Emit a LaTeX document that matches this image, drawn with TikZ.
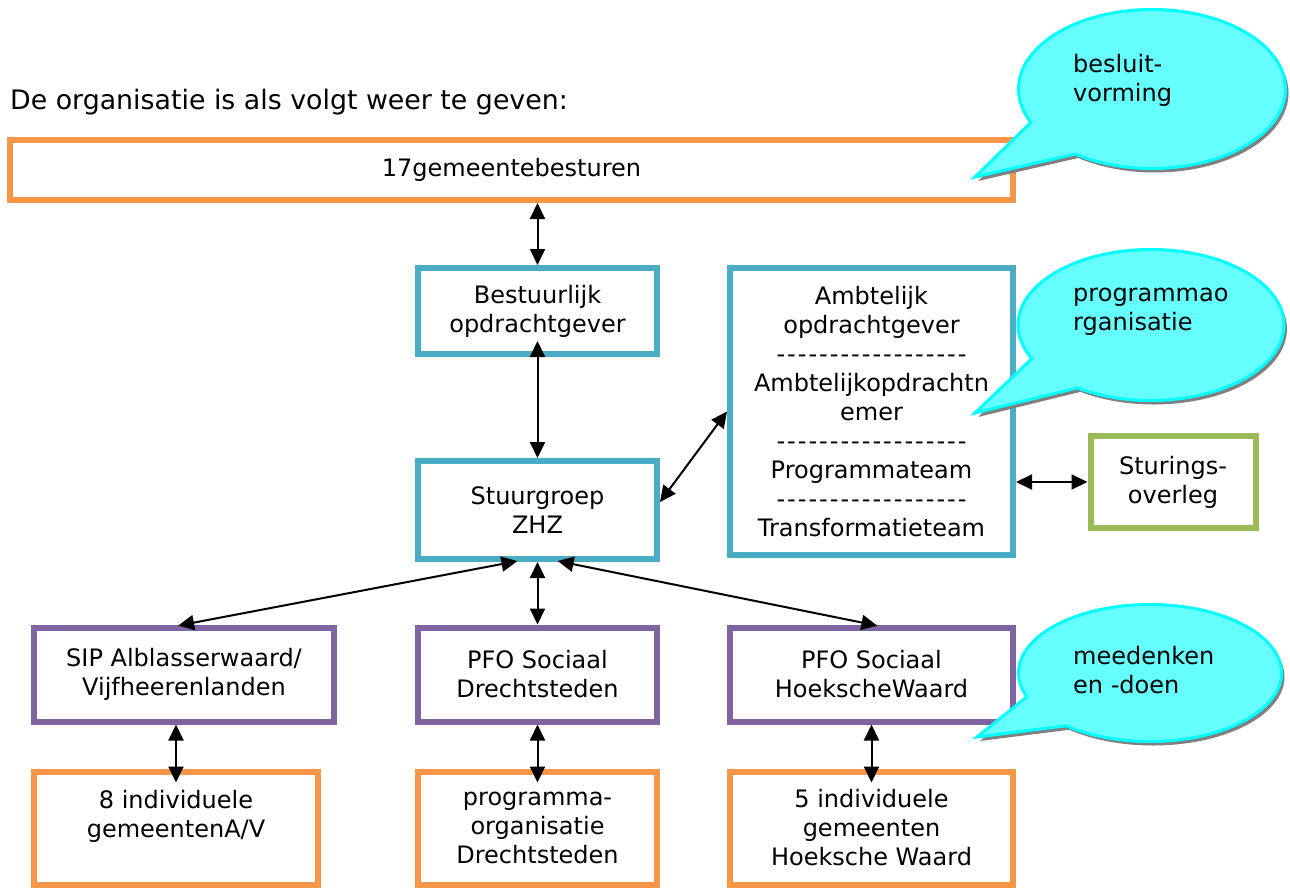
\documentclass[tikz,border=0pt]{standalone}
\usepackage{fontspec}
\setmainfont{DejaVu Sans}[Ligatures=TeXOff]
\usepackage{xcolor}
\usetikzlibrary{arrows.meta, shapes.callouts, shadows}
\definecolor{oranje}{HTML}{F79646}
\definecolor{blauw}{HTML}{4BACC6}
\definecolor{paars}{HTML}{8064A2}
\definecolor{groen}{HTML}{9BBB59}
\definecolor{ballonvul}{HTML}{66FFFF}
\definecolor{ballonrand}{HTML}{00FFFF}
\tikzset{>={Triangle[length=16pt,width=15pt]}}
\newcommand{\streepjes}{\foreach \i in {1,...,18}{-\hspace{2pt}}\hspace{-2pt}}

\begin{document}
\begin{tikzpicture}[x=1pt, y=-1pt, font=\fontsize{24}{29}\selectfont,
  doos/.style={draw=#1, line width=6pt, align=center, inner sep=0pt},
  pijl/.style={<->, line width=2pt},
  ballon/.style={ellipse callout, draw=ballonrand, fill=ballonvul, line width=3pt,
    callout pointer arc=30, inner sep=0pt,
    drop shadow={shadow xshift=3pt, shadow yshift=-4pt, fill=gray, opacity=1}},
  ballontekst/.style={anchor=west, align=left, inner sep=0pt}]
\useasboundingbox (0,0) rectangle (1290,888);

\node[anchor=base west, inner sep=0pt, font=\fontsize{26.8}{32}\selectfont] (titel) at (10,110) {De organisatie is als volgt weer te geven:};

% boxes
\node[doos=oranje, minimum width=1003, minimum height=60] (gem) at (511.5,170) {17gemeentebesturen};
\node[doos=blauw, minimum width=239, minimum height=86] (bestuur) at (537.5,311) {Bestuurlijk\\opdrachtgever};
\node[doos=blauw, minimum width=283, minimum height=287] (ambt) at (871.5,411.5)
  {Ambtelijk\\opdrachtgever\\\streepjes\\Ambtelijkopdrachtn\\emer\\\streepjes\\Programmateam\\\streepjes\\Transformatieteam};
\node[doos=blauw, minimum width=239, minimum height=98] (stuur) at (537.5,510) {Stuurgroep\\ZHZ};
\node[doos=groen, minimum width=165, minimum height=92] (sturing) at (1173,482) {Sturings-\\overleg};
\node[doos=paars, minimum width=300, minimum height=94] (sip) at (184,674.5) {SIP Alblasserwaard/\\Vijfheerenlanden};
\node[doos=paars, minimum width=239, minimum height=94] (pfod) at (537.5,674.5) {PFO Sociaal\\Drechtsteden};
\node[doos=paars, minimum width=283, minimum height=94] (pfohw) at (871.5,674.5) {PFO Sociaal\\HoekscheWaard};
\node[doos=oranje, minimum width=284, minimum height=113] (gem8) at (176,828) {8 individuele\\gemeentenA/V\\\mbox{}};
\node[doos=oranje, minimum width=239, minimum height=113] (progd) at (537.5,828) {programma-\\organisatie\\Drechtsteden};
\node[doos=oranje, minimum width=283, minimum height=113] (gem5) at (871.5,828) {5 individuele\\gemeenten\\Hoeksche Waard};

% arrows
\draw[pijl] (bestuur.north |- gem.south) -- (bestuur.north);
\draw[pijl, shorten <=-16pt] (bestuur) -- (stuur);
\draw[pijl] ([yshift=8pt]stuur.east) -- (ambt.west);
\draw[pijl] (ambt.east |- sturing.west) -- (sturing.west);
\draw[pijl, shorten <=-5pt, shorten >=-6pt] ([xshift=-25pt]stuur.south) -- (sip.north);
\draw[pijl] (stuur) -- (pfod);
\draw[pijl, shorten <=-5pt, shorten >=-6pt] ([xshift=25pt]stuur.south) -- (pfohw.north);
\draw[pijl, shorten >=-14pt] (sip.south -| gem8.north) -- (gem8.north);
\draw[pijl, shorten >=-14pt] (pfod) -- (progd);
\draw[pijl, shorten >=-14pt] (pfohw) -- (gem5);

% callouts
\node[ballon, minimum width=267, minimum height=159, callout absolute pointer={(975,177)}] (ballon1) at (1152,89) {};
\node[ballontekst] (tekst1) at (1073,80.5) {besluit-\\vorming};
\node[ballon, minimum width=266, minimum height=151, callout absolute pointer={(975,413)}] (ballon2) at (1151,325) {};
\node[ballontekst] (tekst2) at (1073,312) {programmao\\rganisatie};
\node[ballon, minimum width=263, minimum height=137, callout absolute pointer={(977,737)}] (ballon3) at (1150,673) {};
\node[ballontekst] (tekst3) at (1073,670.5) {meedenken\\en -doen};
\end{tikzpicture}
\end{document}
